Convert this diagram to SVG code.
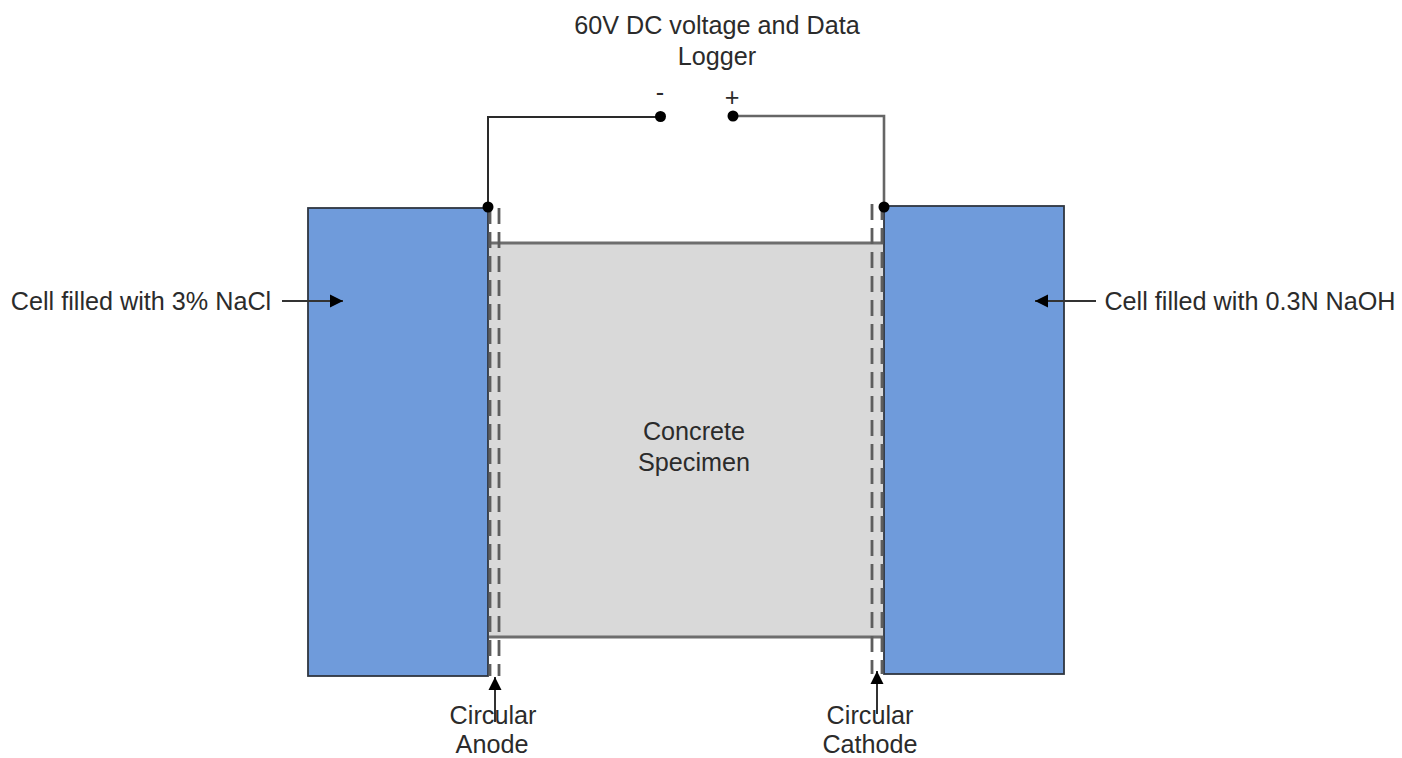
<svg xmlns="http://www.w3.org/2000/svg" width="1402" height="758" viewBox="0 0 1402 758">
<style>
text{font-family:"Liberation Sans",Arial,sans-serif;font-size:25.2px;fill:#2b2b2b;text-anchor:middle}
.cell{fill:#6f9bdb;stroke:#2f3640;stroke-width:1.8}
.dash{fill:none;stroke:#5e5e5e;stroke-width:2.8;stroke-dasharray:16 8}
.wire{fill:none;stroke:#2a2a2a;stroke-width:2}
.wire-grey{fill:none;stroke:#666;stroke-width:2.6}
.lead{fill:none;stroke:#333;stroke-width:2}
.edge{stroke:#6e6e6e;stroke-width:3.2;fill:none}
</style>
<defs>
<marker id="arrow" markerUnits="userSpaceOnUse" markerWidth="14" markerHeight="14" refX="13" refY="7" orient="auto"><path d="M0 0.500L13 7L0 13.500Z" fill="#000"/></marker>
</defs>
<rect width="1402" height="758" fill="#fff"/>
<g id="specimen">
<rect x="489" y="243" width="394" height="394" fill="#d9d9d9"/>
<path class="edge" d="M489 243H883M489 637H883"/>
<text x="694" y="440">Concrete</text>
<text x="694" y="471">Specimen</text>
</g>
<g id="cell-left"><rect class="cell" x="308" y="208" width="180" height="468"/></g>
<g id="cell-right"><rect class="cell" x="884" y="206" width="180" height="468"/></g>
<g id="electrode-anode">
<path class="dash" d="M490 208V676M499 208V676"/>
</g>
<g id="electrode-cathode">
<path class="dash" d="M872 204V674M882 204V674"/>
</g>
<g id="connectors">
<path class="wire" d="M488 207V117H660"/>
<path class="wire-grey" d="M733 116H884V207"/>
<circle cx="488" cy="207" r="5.500"/><circle cx="884" cy="207" r="5.500"/>
<circle cx="660.500" cy="116.500" r="5.500"/><circle cx="733" cy="116" r="5.500"/>
<path class="lead" d="M282 301H343" marker-end="url(#arrow)"/>
<path class="lead" d="M1096 301H1035" marker-end="url(#arrow)"/>
<path class="lead" d="M495 722V677" marker-end="url(#arrow)"/>
<path class="lead" d="M877 714V671" marker-end="url(#arrow)"/>
</g>
<g id="labels">
<text x="717" y="34">60V DC voltage and Data</text>
<text x="717" y="65">Logger</text>
<text x="660" y="101">-</text>
<text x="732" y="106">+</text>
<text x="141" y="310">Cell filled with 3% NaCl</text>
<text x="1250" y="310">Cell filled with 0.3N NaOH</text>
<text x="493" y="724">Circular</text>
<text x="492" y="752.500">Anode</text>
<text x="870" y="724">Circular</text>
<text x="870" y="752.500">Cathode</text>
</g>
</svg>
